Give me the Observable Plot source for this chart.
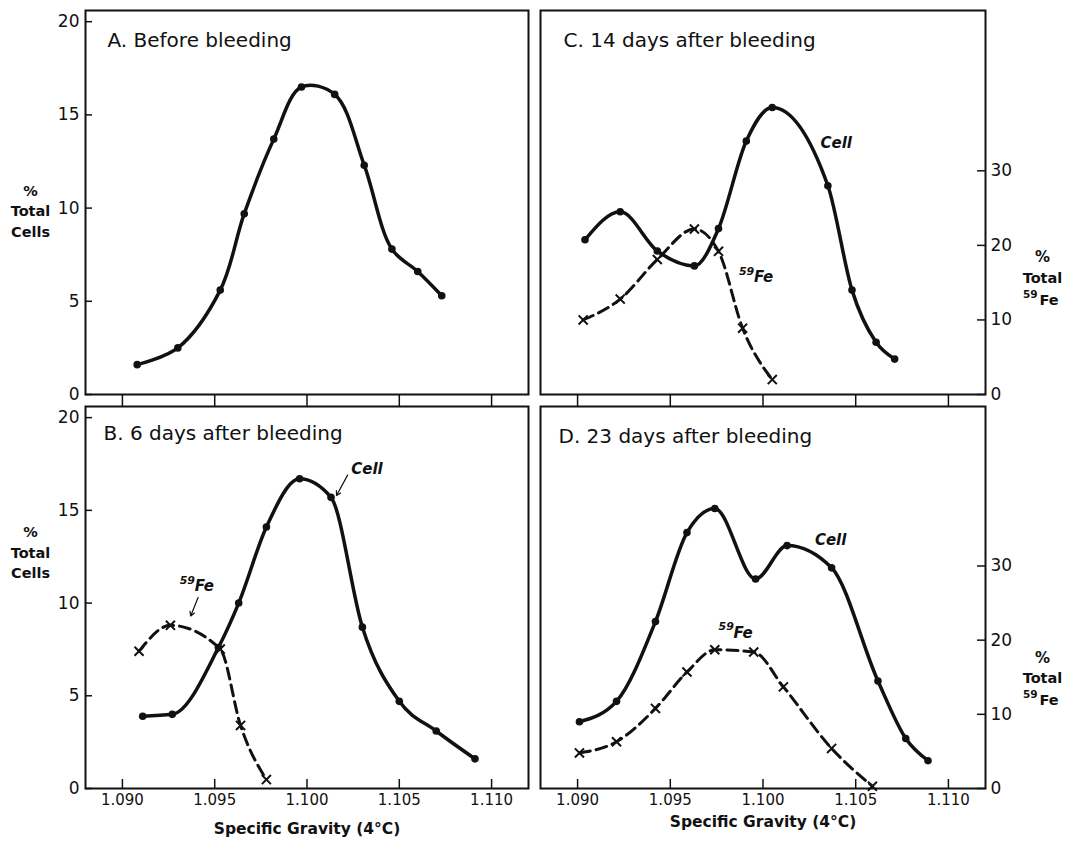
<!DOCTYPE html>
<html><head><meta charset="utf-8">
<script src="https://cdn.jsdelivr.net/npm/d3@7"></script>
<script src="https://cdn.jsdelivr.net/npm/@observablehq/plot@0.6"></script>
<style>
html,body{margin:0;padding:0;background:#fff;}
#chart{position:relative;width:1071px;height:843px;overflow:hidden;background:#fff;}
#chart svg{position:absolute;left:0;top:0;}
</style></head><body><div id="chart"></div>
<script>
// ---- data ----
const gravityTicks = [1.090, 1.095, 1.100, 1.105, 1.110];
const cellTicks = [0, 5, 10, 15, 20];
const feTicks = [0, 10, 20, 30];

const aCellSG  = [1.0908, 1.0930, 1.0953, 1.0966, 1.0982, 1.0997, 1.1015, 1.1031, 1.1046, 1.1060, 1.1073];
const aCellPct = [1.6, 2.5, 5.6, 9.7, 13.7, 16.5, 16.1, 12.3, 7.8, 6.6, 5.3];

const bCellSG  = [1.0911, 1.0927, 1.0952, 1.0963, 1.0978, 1.0996, 1.1013, 1.1030, 1.1050, 1.1070, 1.1091];
const bCellPct = [3.9, 4.0, 7.6, 10.0, 14.1, 16.7, 15.7, 8.7, 4.7, 3.1, 1.6];
const bFeSG    = [1.0909, 1.0926, 1.0953, 1.0964, 1.0978];
const bFePct   = [18.5, 22.0, 18.8, 8.5, 1.2];

const cCellSG  = [1.0904, 1.0923, 1.0943, 1.0963, 1.0976, 1.0991, 1.1005, 1.1035, 1.1048, 1.1061, 1.1071];
const cCellPct = [8.3, 9.8, 7.7, 6.9, 8.9, 13.6, 15.4, 11.2, 5.6, 2.8, 1.9];
const cFeSG    = [1.0903, 1.0923, 1.0943, 1.0963, 1.0976, 1.0989, 1.1005];
const cFePct   = [10.0, 12.8, 18.1, 22.2, 19.2, 8.9, 2.0];

const dCellSG  = [1.0901, 1.0921, 1.0942, 1.0959, 1.0974, 1.0996, 1.1013, 1.1037, 1.1062, 1.1077, 1.1089];
const dCellPct = [3.6, 4.7, 9.0, 13.8, 15.1, 11.3, 13.1, 11.9, 5.8, 2.7, 1.5];
const dFeSG    = [1.0901, 1.0921, 1.0942, 1.0959, 1.0974, 1.0995, 1.1011, 1.1037, 1.1059];
const dFePct   = [4.8, 6.3, 10.8, 15.7, 18.7, 18.4, 13.7, 5.4, 0.3];

const titles = ["A. Before bleeding", "B. 6 days after bleeding", "C. 14 days after bleeding", "D. 23 days after bleeding"];

// ---- layout ----
const W = 1071, H = 843;
const FONT = "'DejaVu Sans', sans-serif";
const INK = "#111";
const SG_DOMAIN = [1.088, 1.112];
const CELL_DOMAIN = [0, 20.6];
const FE_DOMAIN = [0, 51.5];
const COL_L = [85, 528], COL_R = [540, 985];
const ROW_T = [10, 394], ROW_B = [406, 788];

const table = (sg, pct) => sg.map((x, i) => ({sg: x, pct: pct[i]}));
const fmt = d3.format(".3f");
const container = document.getElementById("chart");

function layer(col, row, yDomain, marks) {
  const svg = Plot.plot({
    width: W, height: H,
    marginLeft: col[0], marginRight: W - col[1],
    marginTop: row[0], marginBottom: H - row[1],
    style: `background:none;overflow:visible;font-family:${FONT};color:${INK};`,
    x: {domain: SG_DOMAIN, axis: null},
    y: {domain: yDomain, axis: null},
    marks
  });
  svg.style.position = "absolute";
  svg.style.left = "0px";
  svg.style.top = "0px";
  svg.style.width = W + "px";
  svg.style.height = H + "px";
  svg.style.maxWidth = "none";
  container.appendChild(svg);
}

function cellLayer(p) {
  const fw = p.col[1] - p.col[0], fh = p.row[1] - p.row[0];
  const m = [Plot.frame({stroke: INK, strokeWidth: 2})];
  if (p.leftAxis) {
    m.push(Plot.tickY(cellTicks, {y: d => d, insetRight: fw - 7, stroke: INK, strokeWidth: 1.5}));
    m.push(Plot.text(cellTicks, {y: d => d, frameAnchor: "left", dx: -6, textAnchor: "end", text: d => String(d), fontSize: 17, fill: INK}));
    m.push(Plot.text(["%\nTotal\nCells"], {frameAnchor: "left", y: () => p.yLabelAt, dx: -55, textAnchor: "middle", lineHeight: 1.4, fontWeight: "bold", fontSize: 14.5, fill: INK}));
  }
  if (p.xLabels) {
    m.push(Plot.tickX(gravityTicks, {x: d => d, insetTop: fh - 9, stroke: INK, strokeWidth: 1.5}));
    m.push(Plot.text(gravityTicks, {x: d => d, frameAnchor: "bottom", dy: 12, lineAnchor: "middle", text: d => fmt(d), fontSize: 15, fill: INK}));
    m.push(Plot.text(["Specific Gravity (4°C)"], {frameAnchor: "bottom", dy: p.xTitleDy, lineAnchor: "middle", fontWeight: "bold", fontSize: 15.5, fill: INK}));
  } else {
    m.push(Plot.tickX(gravityTicks, {x: d => d, insetTop: fh, insetBottom: -12, stroke: INK, strokeWidth: 1.5}));
  }
  m.push(Plot.line(p.cells, {x: "sg", y: "pct", curve: p.curve || "monotone-x", stroke: INK, strokeWidth: 3.5}));
  m.push(Plot.dot(p.cells, {x: "sg", y: "pct", r: 3.8, fill: INK}));
  m.push(Plot.text([p.title], {frameAnchor: "top-left", dx: p.titleDx, dy: p.titleDy, lineAnchor: "top", textAnchor: "start", fontSize: 20, fill: INK}));
  for (const a of p.notes || []) {
    if (a.sup) {
      m.push(Plot.text([a.sup], {x: () => a.x, y: () => a.y, dy: -6, textAnchor: "start", lineAnchor: "middle", fontStyle: "italic", fontWeight: "bold", fontSize: 11, fill: INK}));
    }
    m.push(Plot.text([a.t], {x: () => a.x, y: () => a.y, dx: a.sup ? 15 : 0, textAnchor: "start", lineAnchor: "middle", fontStyle: "italic", fontWeight: "bold", fontSize: 15, fill: INK}));
  }
  for (const a of p.arrows || []) {
    m.push(Plot.arrow([a], {x1: "x1", y1: "y1", x2: "x2", y2: "y2", stroke: INK, strokeWidth: 1.2, headLength: 6}));
  }
  layer(p.col, p.row, CELL_DOMAIN, m);
}

function feLayer(p) {
  const fw = p.col[1] - p.col[0];
  const m = [];
  if (p.rightAxis) {
    m.push(Plot.tickY(feTicks, {y: d => d, insetLeft: fw - 8, stroke: INK, strokeWidth: 1.5}));
    m.push(Plot.text(feTicks, {y: d => d, frameAnchor: "right", dx: 5, textAnchor: "start", text: d => String(d), fontSize: 17, fill: INK}));
    const lab = {frameAnchor: "right", y: () => p.yLabelAt, lineAnchor: "middle", fontWeight: "bold", fill: INK};
    m.push(Plot.text(["%"], {...lab, dx: 57, dy: -21, textAnchor: "middle", fontSize: 15}));
    m.push(Plot.text(["Total"], {...lab, dx: 57, dy: 0, textAnchor: "middle", fontSize: 14.5}));
    m.push(Plot.text(["59"], {...lab, dx: 52, dy: 16, textAnchor: "end", fontSize: 10.5}));
    m.push(Plot.text(["Fe"], {...lab, dx: 54, dy: 22, textAnchor: "start", fontSize: 14.5}));
  }
  m.push(Plot.line(p.fe, {x: "sg", y: "pct", curve: "monotone-x", stroke: INK, strokeWidth: 3, strokeDasharray: "11,6"}));
  m.push(Plot.dot(p.fe, {x: "sg", y: "pct", symbol: "times", r: 4.2, stroke: INK, strokeWidth: 2}));
  layer(p.col, p.row, FE_DOMAIN, m);
}

// Panel A
cellLayer({col: COL_L, row: ROW_T, cells: table(aCellSG, aCellPct), title: titles[0], titleDx: 22, titleDy: 22,
  leftAxis: true, yLabelAt: 9.9, xLabels: false, curve: "catmull-rom"});

// Panel B
cellLayer({col: COL_L, row: ROW_B, cells: table(bCellSG, bCellPct), title: titles[1], titleDx: 18, titleDy: 19,
  leftAxis: true, yLabelAt: 12.8, xLabels: true, xTitleDy: 41,
  notes: [{t: "Cell", x: 1.1024, y: 17.2}, {t: "Fe", sup: "59", x: 1.0931, y: 10.9}],
  arrows: [{x1: 1.1022, y1: 16.9, x2: 1.1016, y2: 15.8}, {x1: 1.0941, y1: 10.3, x2: 1.0937, y2: 9.3}]});
feLayer({col: COL_L, row: ROW_B, fe: table(bFeSG, bFePct), rightAxis: false});

// Panel C
cellLayer({col: COL_R, row: ROW_T, cells: table(cCellSG, cCellPct), title: titles[2], titleDx: 23, titleDy: 22,
  leftAxis: false, xLabels: false,
  notes: [{t: "Cell", x: 1.1031, y: 13.5}, {t: "Fe", sup: "59", x: 1.0987, y: 6.3}]});
feLayer({col: COL_R, row: ROW_T, fe: table(cFeSG, cFePct), rightAxis: true, yLabelAt: 15.6});

// Panel D
cellLayer({col: COL_R, row: ROW_B, cells: table(dCellSG, dCellPct), title: titles[3], titleDx: 18, titleDy: 22,
  leftAxis: false, xLabels: true, xTitleDy: 34,
  notes: [{t: "Cell", x: 1.1028, y: 13.4}, {t: "Fe", sup: "59", x: 1.0976, y: 8.4}]});
feLayer({col: COL_R, row: ROW_B, fe: table(dFeSG, dFePct), rightAxis: true, yLabelAt: 14.8});
</script></body></html>
